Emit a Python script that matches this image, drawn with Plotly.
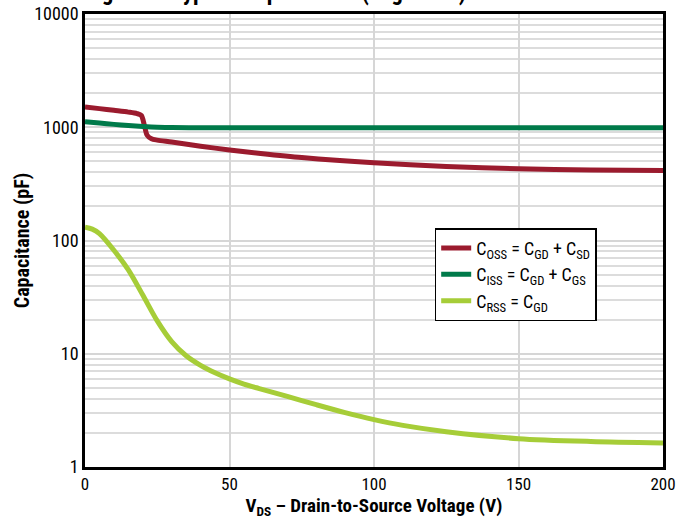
import plotly.graph_objects as go

vds_oss = [0, 5, 10, 15, 18, 19.5, 20.5, 21.5, 23, 25, 30, 40, 50, 60, 75, 100, 125, 150, 175, 200]
c_oss = [1510, 1460, 1410, 1360, 1320, 1270, 1050, 850, 790, 770, 740, 680, 630, 590, 540, 485, 450, 430, 420, 415]

vds_iss = [0, 5, 10, 15, 20, 25, 30, 40, 60, 100, 150, 200]
c_iss = [1120, 1090, 1060, 1035, 1015, 1000, 995, 990, 990, 990, 990, 990]

vds_rss = [0, 2.5, 5, 10, 15, 20, 25, 30, 35, 40, 45, 50, 55, 60, 70, 80, 90, 100, 110, 125, 150, 175, 200]
c_rss = [131, 126, 115, 82, 55, 33, 19.5, 12.8, 9.6, 7.9, 6.8, 6.0, 5.4, 4.95, 4.2, 3.55, 3.02, 2.62, 2.33, 2.05, 1.78, 1.68, 1.63]

x_ticks = [0, 50, 100, 150, 200]
y_ticks = [1, 10, 100, 1000, 10000]
y_tick_labels = ["1", "10", "100", "1000", "10000"]

names = [
    "C<sub>OSS</sub> = C<sub>GD</sub> + C<sub>SD</sub>",
    "C<sub>ISS</sub> = C<sub>GD</sub> + C<sub>GS</sub>",
    "C<sub>RSS</sub> = C<sub>GD</sub>",
]
colors = ["#9b1b2e", "#007a4a", "#a6cd38"]

FONT = "Liberation Sans Narrow, Arial Narrow, Roboto Condensed, sans-serif"

fig = go.Figure()
for xv, yv, nm, col in zip([vds_oss, vds_iss, vds_rss], [c_oss, c_iss, c_rss], names, colors):
    fig.add_trace(go.Scatter(x=xv, y=yv, mode="lines", name=nm,
                             line=dict(color=col, width=5, shape="spline", smoothing=0.8)))

fig.update_xaxes(range=[0, 200], tickvals=x_ticks, showgrid=True, gridcolor="#d6d6d6", gridwidth=1.5,
                 showline=True, linecolor="black", linewidth=2.5, mirror=True, ticks="",
                 zeroline=False, automargin=False,
                 title=dict(text="<b>V<sub>DS</sub> – Drain-to-Source Voltage (V)</b>", font=dict(size=19, color="black"), standoff=4),
                 tickfont=dict(size=17, color="black"))
fig.update_yaxes(type="log", range=[0, 4], tickvals=y_ticks, ticktext=y_tick_labels,
                 showgrid=True, gridcolor="#d6d6d6", gridwidth=1.5,
                 minor=dict(showgrid=True, gridcolor="#dcdcdc", gridwidth=1.5, dtick="D1"),
                 showline=True, linecolor="black", linewidth=2.5, mirror=True, ticks="",
                 automargin=False,
                 title=dict(text="<b>Capacitance (pF)</b>", font=dict(size=20, color="black"), standoff=0),
                 tickfont=dict(size=18, color="black"))

fig.add_annotation(text="<b>Figure 5. Typical Capacitance (Log Scale)</b>", xref="paper", yref="paper",
                   x=0.33, y=1, xanchor="center", yanchor="bottom", yshift=6, showarrow=False,
                   font=dict(size=23, color="black", family=FONT))

fig.update_layout(
    width=698, height=529,
    margin=dict(l=85, r=35, t=14, b=62, autoexpand=False),
    plot_bgcolor="white", paper_bgcolor="white",
    font=dict(family=FONT, color="black"),
    legend=dict(x=0.605, y=0.527, xanchor="left", yanchor="top", bgcolor="white",
                bordercolor="black", borderwidth=1.5, font=dict(size=18, color="black"),
                itemwidth=30, tracegroupgap=4),
)

fig.write_html("out.html")
